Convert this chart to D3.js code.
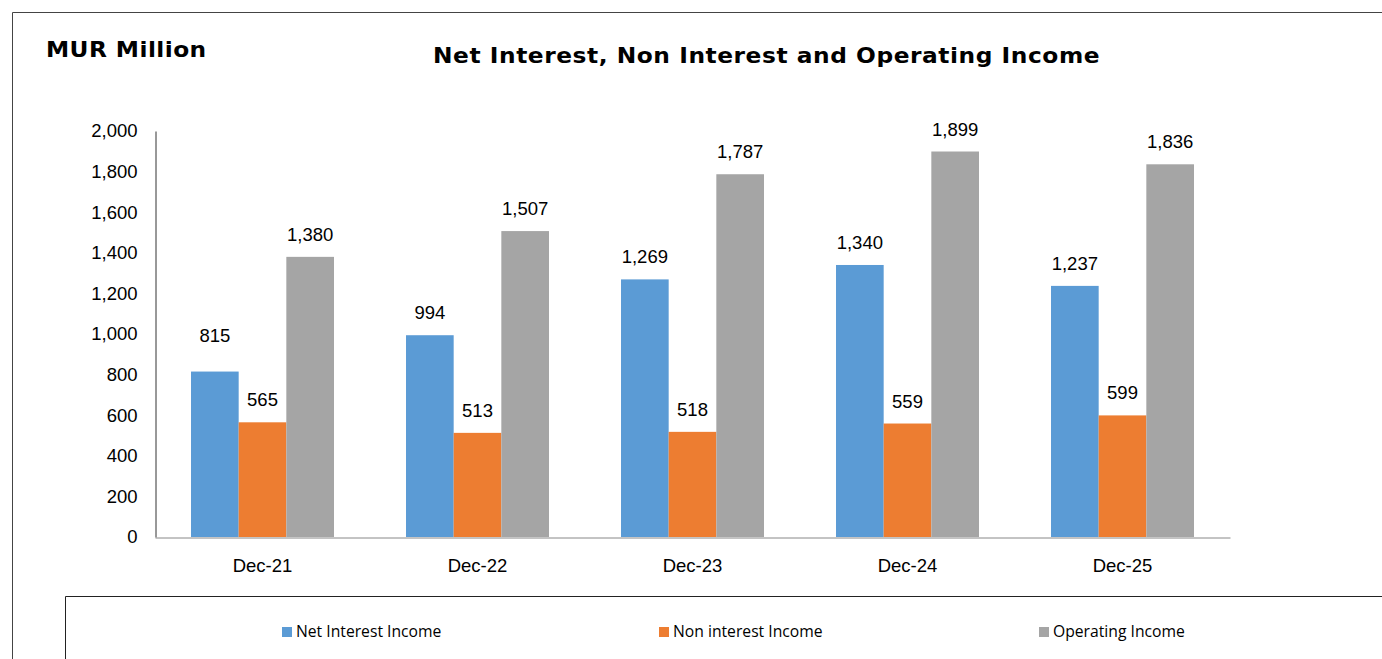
<!DOCTYPE html>
<html><head><meta charset="utf-8">
<script src="https://cdn.jsdelivr.net/npm/d3@7"></script>
<style>body{margin:0;background:#fff}svg{display:block}</style>
</head><body>
<script>
const categories = ["Dec-21","Dec-22","Dec-23","Dec-24","Dec-25"];
const seriesNames = ["Net Interest Income","Non interest Income","Operating Income"];
const netInterest = [815, 994, 1269, 1340, 1237];
const nonInterest = [565, 513, 518, 559, 599];
const operating = [1380, 1507, 1787, 1899, 1836];
const yTicks = [0,200,400,600,800,1000,1200,1400,1600,1800,2000];
const colors = ["#5B9BD5","#ED7D31","#A5A5A5"];

const W = 1382, H = 659;
const FONT = "'Liberation Sans', Arial, sans-serif";
const svg = d3.select("body").append("svg").attr("width", W).attr("height", H);
const seriesVals = [netInterest, nonInterest, operating];

// frames
svg.append("path").attr("d", `M12.5,${H} V12.5 H${W}`).attr("fill","none").attr("stroke","#444").attr("stroke-width",1);
svg.append("path").attr("d", `M65.5,${H} V596.5 H${W}`).attr("fill","none").attr("stroke","#222").attr("stroke-width",1);

svg.append("text").attr("transform","translate(46,57) scale(1.06,1)").text("MUR Million")
  .attr("font-family","DejaVu Sans").attr("font-weight","bold").attr("font-size",22).attr("letter-spacing",0.4).attr("fill","#000");
svg.append("text").attr("transform","translate(433,63) scale(1.11,1)").text("Net Interest, Non Interest and Operating Income")
  .attr("font-family","DejaVu Sans").attr("font-weight","bold").attr("font-size",21).attr("letter-spacing",0.5).attr("fill","#000");

const x0 = d3.scaleBand().domain(categories).range([155,1230]).paddingInner(0.335).paddingOuter(0.1675);
const x1 = d3.scaleBand().domain(d3.range(3)).range([0, x0.bandwidth()]);
const y = d3.scaleLinear().domain([0,2000]).range([537,131]);

const yAxis = svg.append("g").attr("transform","translate(155.5,0)")
  .call(d3.axisLeft(y).tickValues(yTicks).tickSize(0).tickPadding(18).tickFormat(d3.format(",")));
yAxis.select(".domain").attr("stroke","#333");
yAxis.selectAll("text").attr("font-family",FONT).attr("font-size",18.5).attr("fill","#000");

const xAxis = svg.append("g").attr("transform","translate(0,537.5)")
  .call(d3.axisBottom(x0).tickSize(0).tickPadding(21));
xAxis.select(".domain").attr("stroke","#888");
xAxis.selectAll("text").attr("font-family",FONT).attr("font-size",18.5).attr("fill","#000");

const labelNudge = [[14,0,0,0,0],[0,0,0,0,0],[0,0,0,0,0]];
seriesVals.forEach((vals, s) => {
  const g = svg.append("g");
  g.selectAll("rect").data(vals).join("rect")
    .attr("x",(d,i)=>x0(categories[i])+x1(s))
    .attr("width",x1.bandwidth())
    .attr("y",d=>y(d)).attr("height",d=>y(0)-y(d))
    .attr("fill",colors[s]);
  g.selectAll("text").data(vals).join("text")
    .attr("x",(d,i)=>x0(categories[i])+x1(s)+x1.bandwidth()/2)
    .attr("y",(d,i)=>y(d)-16-labelNudge[s][i])
    .attr("text-anchor","middle")
    .attr("font-family",FONT).attr("font-size",18.5).attr("fill","#000")
    .text(d3.format(","));
});

// legend
const legX = [282, 659, 1039];
seriesNames.forEach((n,i)=>{
  svg.append("rect").attr("x",legX[i]).attr("y",627).attr("width",10).attr("height",10).attr("fill",colors[i]);
  svg.append("text").attr("x",legX[i]+14).attr("y",637).text(n)
    .attr("font-family","'Liberation Sans Narrow', 'Open Sans'").attr("font-size",15.7).attr("fill","#000");
});
</script>
</body></html>
